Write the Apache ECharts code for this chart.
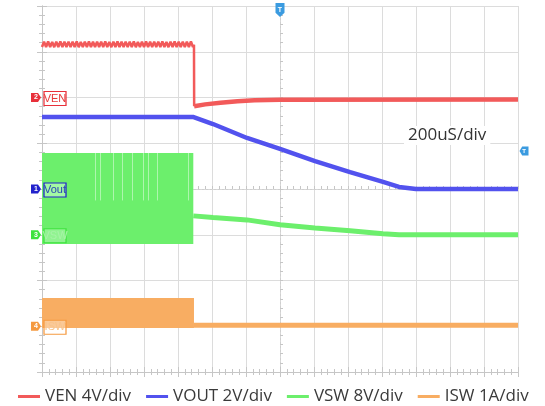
<!DOCTYPE html>
<html>
<head>
<meta charset="utf-8">
<script src="https://cdn.jsdelivr.net/npm/echarts@6/dist/echarts.min.js"></script>
<style>
  html, body { margin: 0; padding: 0; background: #fff; }
  #chart { width: 545px; height: 406px; }
</style>
</head>
<body>
<div id="chart"></div>
<script>
// time in uS, 200uS/div, 14 div across
var timeMin = 0, timeMax = 2800, timeStep = 200;

// VEN (V) - ripple while enabled, then the falling edge
var venRippleTime = [0,12,24,36,48,60,72,84,96,108,120,132,144,156,168,180,192,204,216,228,240,252,264,276,288,300,
  312,324,336,348,360,372,384,396,408,420,432,444,456,468,480,492,504,516,528,540,552,564,576,588,600,
  612,624,636,648,660,672,684,696,708,720,732,744,756,768,780,792,804,816,828,840,852,864,876,888,894,895];
var venRippleVolt = [4.42,4.88,4.40,4.90,4.42,4.86,4.40,4.88,4.41,4.90,4.40,4.87,4.42,4.89,4.40,4.88,4.41,4.90,4.40,4.86,
  4.42,4.88,4.40,4.90,4.41,4.87,4.40,4.89,4.42,4.88,4.40,4.90,4.41,4.86,4.40,4.88,4.42,4.90,4.40,4.87,
  4.41,4.89,4.40,4.88,4.42,4.90,4.40,4.86,4.41,4.88,4.40,4.90,4.42,4.87,4.40,4.89,4.41,4.88,4.40,4.90,
  4.42,4.86,4.40,4.88,4.41,4.90,4.40,4.87,4.42,4.89,4.40,4.88,4.41,4.90,4.42,4.62,-0.76];
// VEN (V) - after disable
var venTime = [895,960,1050,1150,1250,1400,2800];
var venVolt = [-0.76,-0.6,-0.45,-0.33,-0.25,-0.19,-0.17];

// VOUT (V)
var voutTime = [0,888,900,1006,1206,1400,1606,1812,2006,2100,2200,2800];
var voutVolt = [3.15,3.15,3.12,2.84,2.23,1.75,1.22,0.74,0.31,0.09,0.0,0.0];

// VSW (V) - switching band while enabled, then follows output
var vswBand = [0, 890, -1.6, 14.3];   // t0, t1, low, high
var vswSkips = [312, 341, 418, 471, 529, 594, 624, 676, 859];
var vswTime = [890,1006,1206,1400,1606,1812,2006,2100,2800];
var vswVolt = [3.3,3.0,2.6,1.75,1.2,0.7,0.17,0.02,0.0];

// ISW (A)
var iswBand = [0, 894, -0.04, 0.62];
var iswTime = [894,1200,1600,2000,2400,2800];
var iswAmp = [0.02,0.02,0.02,0.02,0.02,0.02];

var names = ['VEN 4V/div', 'VOUT 2V/div', 'VSW 8V/div', 'ISW 1A/div'];
var colors = ['#f25a5a', '#5252ee', '#6cef6c', '#f8ad62'];

function pairs(t, v) {
  return t.map(function (x, i) { return [x, v[i]]; });
}

var gridGray = '#dcdcdc';
var edgeGray = '#c6c6c6';

function tagMark(coordX, coordY, color, num, text, textColor, boxFill) {
  return [
    {
      coord: [coordX, coordY],
      symbol: 'path://M0,0 L7,0 L10,4.5 L7,9 L0,9 Z',
      symbolSize: [10, 9],
      symbolOffset: [-6, 0],
      itemStyle: { color: color },
      label: { show: true, position: 'inside', formatter: num, color: '#fff', fontSize: 7, fontWeight: 'bold' }
    },
    {
      coord: [coordX, coordY],
      symbol: 'rect',
      symbolSize: [22, 14],
      symbolOffset: [13, 1],
      itemStyle: { color: boxFill, borderColor: color, borderWidth: 1 },
      label: { show: true, position: 'inside', formatter: text, color: textColor, fontSize: 11,
               fontFamily: 'Liberation Sans' }
    }
  ];
}

var chart = echarts.init(document.getElementById('chart'));

var axisCommon = {
  type: 'value',
  axisLabel: { show: false },
  axisTick: { show: true, inside: true, length: 5, lineStyle: { color: edgeGray } },
  minorTick: { show: true, splitNumber: 5, length: 3, lineStyle: { color: edgeGray } },
  axisLine: { show: true, lineStyle: { color: edgeGray } },
  splitLine: { show: false }
};

var option = {
  animation: false,
  backgroundColor: '#fff',
  grid: { left: 42, right: 27, top: 6, bottom: 34 },
  legend: {
    data: names,
    left: 13,
    top: 383,
    icon: 'rect',
    itemWidth: 22,
    itemHeight: 3,
    itemGap: 15,
    textStyle: { fontFamily: 'Open Sans', fontSize: 17, color: '#3a3a3a' }
  },
  xAxis: [
    Object.assign({}, axisCommon, { min: timeMin, max: timeMax, interval: timeStep, position: 'bottom',
      splitLine: { show: true, lineStyle: { color: gridGray } } }),
    Object.assign({}, axisCommon, { min: timeMin, max: timeMax, interval: timeStep, position: 'top' }),
    Object.assign({}, axisCommon, { min: timeMin, max: timeMax, interval: timeStep, position: 'bottom', offset: -183,
      axisTick: { show: true, inside: true, length: 3, lineStyle: { color: edgeGray } },
      axisLine: { show: true, lineStyle: { color: '#cfcfcf', type: [2, 2] } } })
  ],
  yAxis: [
    Object.assign({}, axisCommon, { min: 0, max: 8, interval: 1, position: 'left',
      splitLine: { show: true, lineStyle: { color: gridGray } } }),
    Object.assign({}, axisCommon, { min: 0, max: 8, interval: 1, position: 'right' }),
    Object.assign({}, axisCommon, { min: 0, max: 8, interval: 1, position: 'left', offset: -238,
      axisTick: { show: true, inside: true, length: 3, lineStyle: { color: edgeGray } },
      axisLine: { show: true, lineStyle: { color: '#cfcfcf', type: [2, 2] } } }),
    { type: 'value', show: false, min: -24, max: 8 },   // VEN 4V/div, gnd at div 6
    { type: 'value', show: false, min: -8, max: 8 },    // VOUT 2V/div, gnd at div 4
    { type: 'value', show: false, min: -24, max: 40 },  // VSW 8V/div, gnd at div 3
    { type: 'value', show: false, min: -1, max: 7 }     // ISW 1A/div, gnd at div 1
  ],
  graphic: [
    {
      type: 'text', left: 404, top: 126, z: 100,
      style: { text: '200uS/div', fill: '#333', font: '17px "Open Sans"', backgroundColor: '#fff', padding: [1, 4] }
    }
  ],
  series: [
    {
      name: names[3], type: 'line', xAxisIndex: 0, yAxisIndex: 6, z: 2,
      data: pairs(iswTime, iswAmp), showSymbol: false, color: colors[3],
      lineStyle: { width: 5, color: colors[3] },
      markArea: {
        silent: true,
        itemStyle: { color: colors[3], opacity: 1 },
        data: [[{ coord: [iswBand[0], iswBand[2]] }, { coord: [iswBand[1], iswBand[3]] }]]
      },
      markPoint: { silent: true, z: 10, data: tagMark(0, 0, '#f59a40', '4', 'ISW', '#f9c38a', 'rgba(255,255,255,0.35)') }
    },
    {
      name: names[2], type: 'line', xAxisIndex: 0, yAxisIndex: 5, z: 3,
      data: pairs(vswTime, vswVolt), showSymbol: false, color: colors[2],
      lineStyle: { width: 5, color: colors[2] },
      markArea: {
        silent: true,
        itemStyle: { color: colors[2], opacity: 1 },
        data: [[{ coord: [vswBand[0], vswBand[2]] }, { coord: [vswBand[1], vswBand[3]] }]]
      },
      markLine: {
        silent: true, symbol: 'none', z: 4,
        lineStyle: { color: 'rgba(255,255,255,0.45)', width: 1, type: 'solid' },
        label: { show: false },
        data: vswSkips.map(function (t) { return [{ coord: [t, vswBand[3]] }, { coord: [t, 6] }]; })
      },
      markPoint: { silent: true, z: 10, data: tagMark(0, 0, '#3ee23e', '3', 'VSW', '#a6f3a6', 'rgba(255,255,255,0.25)') }
    },
    {
      name: names[1], type: 'line', xAxisIndex: 0, yAxisIndex: 4, z: 4,
      data: pairs(voutTime, voutVolt), showSymbol: false, color: colors[1],
      lineStyle: { width: 4.5, color: colors[1] },
      markPoint: {
        silent: true, z: 10,
        data: tagMark(0, 0, '#2222cc', '1', 'Vout', '#2a44b8', 'rgba(200,255,200,0.6)').concat([
          {
            coord: [1400, 8], symbol: 'path://M0,0 L8,0 L8,9 L4,13 L0,9 Z', symbolSize: [9, 14], symbolOffset: [0, 4],
            itemStyle: { color: '#3b9be0' },
            label: { show: true, position: 'inside', formatter: 'T', color: '#fff', fontSize: 7, fontWeight: 'bold' }
          },
          {
            coord: [2800, 1.66], symbol: 'path://M3,0 L10,0 L10,9 L3,9 L0,4.5 Z', symbolSize: [9, 9], symbolOffset: [6, 0],
            itemStyle: { color: '#3b9be0' },
            label: { show: true, position: 'inside', formatter: 'T', color: '#fff', fontSize: 6, fontWeight: 'bold' }
          }
        ])
      }
    },
    {
      name: names[0], type: 'line', xAxisIndex: 0, yAxisIndex: 3, z: 5,
      data: pairs(venRippleTime, venRippleVolt), showSymbol: false, color: colors[0],
      lineStyle: { width: 2.5, color: colors[0] }
    },
    {
      name: names[0], type: 'line', xAxisIndex: 0, yAxisIndex: 3, z: 5,
      data: pairs(venTime, venVolt), showSymbol: false, color: colors[0],
      lineStyle: { width: 4.5, color: colors[0] },
      markPoint: { silent: true, z: 10, data: tagMark(0, 0, '#e8303a', '2', 'VEN', '#e83a3a', 'rgba(255,255,255,0.8)') }
    }
  ]
};

chart.setOption(option);
</script>
</body>
</html>
